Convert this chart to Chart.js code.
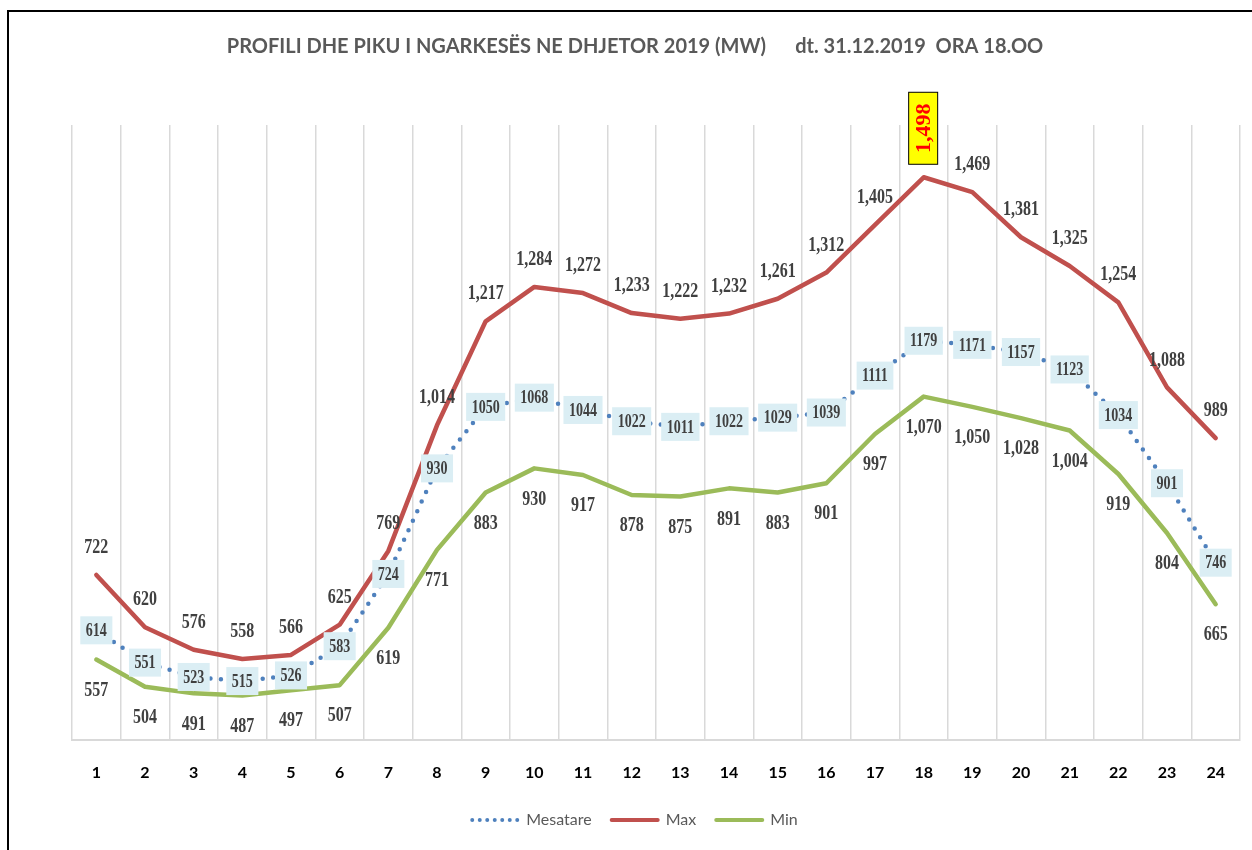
<!DOCTYPE html>
<html>
<head>
<meta charset="utf-8">
<title>Profili i ngarkeses</title>
<script src="https://cdn.jsdelivr.net/npm/chart.js@4.4.1/dist/chart.umd.min.js"></script>
<style>
  html, body { margin: 0; padding: 0; background: #fff; overflow: hidden; }
  #wrap { position: relative; width: 1252px; height: 850px; }
  #frame { position: absolute; left: 7px; top: 10px; width: 1260px; height: 860px;
           border-left: 2px solid #000; border-top: 2px solid #000; }
  #loadChart { position: absolute; left: 0; top: 0; }
</style>
</head>
<body>
<div id="wrap">
  <div id="frame"></div>
  <canvas id="loadChart" width="1252" height="850"></canvas>
</div>
<script>
// hours of the day
var hours = ['1','2','3','4','5','6','7','8','9','10','11','12',
             '13','14','15','16','17','18','19','20','21','22','23','24'];

// MW
var mesatare = [614, 551, 523, 515, 526, 583, 724, 930, 1050, 1068, 1044, 1022,
                1011, 1022, 1029, 1039, 1111, 1179, 1171, 1157, 1123, 1034, 901, 746];
var maxLoad  = [722, 620, 576, 558, 566, 625, 769, 1014, 1217, 1284, 1272, 1233,
                1222, 1232, 1261, 1312, 1405, 1498, 1469, 1381, 1325, 1254, 1088, 989];
var minLoad  = [557, 504, 491, 487, 497, 507, 619, 771, 883, 930, 917, 878,
                875, 891, 883, 901, 997, 1070, 1050, 1028, 1004, 919, 804, 665];

var titleText = 'PROFILI DHE PIKU I NGARKESËS NE DHJETOR 2019 (MW)      dt. 31.12.2019  ORA 18.OO';

var serif = '"Liberation Serif", "Times New Roman", serif';

function withComma(v) {
  return v.toLocaleString('en-US');
}

// squeezed bold serif text, like the narrow labels of the original
function squeezedText(ctx, text, x, y, size, color, squeeze) {
  ctx.save();
  ctx.translate(x, y);
  ctx.scale(squeeze, 1);
  ctx.font = 'bold ' + size + 'px ' + serif;
  ctx.fillStyle = color;
  ctx.textAlign = 'center';
  ctx.textBaseline = 'middle';
  ctx.fillText(text, 0, 0);
  ctx.restore();
}

var valueLabels = {
  id: 'valueLabels',
  afterDatasetsDraw: function(chart) {
    var ctx = chart.ctx;
    var peak = Math.max.apply(null, maxLoad);

    // Max: above the line
    chart.getDatasetMeta(1).data.forEach(function(pt, i) {
      var v = maxLoad[i];
      if (v === peak) {
        ctx.save();
        ctx.fillStyle = '#FFFF00';
        ctx.strokeStyle = '#000';
        ctx.lineWidth = 1;
        ctx.fillRect(pt.x - 15, pt.y - 85, 29, 72);
        ctx.strokeRect(pt.x - 15, pt.y - 85, 29, 72);
        ctx.translate(pt.x, pt.y - 49);
        ctx.rotate(-Math.PI / 2);
        ctx.font = 'bold 22px ' + serif;
        ctx.fillStyle = '#FF0000';
        ctx.textAlign = 'center';
        ctx.textBaseline = 'middle';
        ctx.fillText(withComma(v), 0, 1);
        ctx.restore();
      } else {
        squeezedText(ctx, withComma(v), pt.x, pt.y - 27, 20, '#404040', 0.8);
      }
    });

    // Min: below the line
    chart.getDatasetMeta(2).data.forEach(function(pt, i) {
      squeezedText(ctx, withComma(minLoad[i]), pt.x, pt.y + 31, 20, '#404040', 0.8);
    });

    // Mesatare: boxed, on the point
    chart.getDatasetMeta(0).data.forEach(function(pt, i) {
      var txt = String(mesatare[i]);
      ctx.save();
      ctx.font = 'bold 18px ' + serif;
      var w = ctx.measureText(txt).width * 0.78 + 11;
      ctx.restore();
      ctx.fillStyle = '#DBEEF4';
      ctx.fillRect(pt.x - w / 2, pt.y - 14, w, 28);
      squeezedText(ctx, txt, pt.x, pt.y + 1, 18, '#404040', 0.78);
    });
  }
};

new Chart(document.getElementById('loadChart'), {
  type: 'line',
  data: {
    labels: hours,
    datasets: [
      {
        label: 'Mesatare',
        data: mesatare,
        borderColor: '#4F81BD',
        backgroundColor: '#4F81BD',
        borderWidth: 4.5,
        borderDash: [0, 10.5],
        borderCapStyle: 'round',
        pointRadius: 0,
        tension: 0
      },
      {
        label: 'Max',
        data: maxLoad,
        borderColor: '#C0504D',
        backgroundColor: '#C0504D',
        borderWidth: 4.5,
        borderCapStyle: 'round',
        borderJoinStyle: 'round',
        pointRadius: 0,
        tension: 0
      },
      {
        label: 'Min',
        data: minLoad,
        borderColor: '#9BBB59',
        backgroundColor: '#9BBB59',
        borderWidth: 4.5,
        borderCapStyle: 'round',
        borderJoinStyle: 'round',
        pointRadius: 0,
        tension: 0
      }
    ]
  },
  options: {
    responsive: false,
    animation: false,
    events: [],
    layout: { padding: { left: 30, right: 12, top: 0, bottom: 12 } },
    scales: {
      x: {
        offset: true,
        grid: { offset: true, color: '#D9D9D9', lineWidth: 1.5, drawTicks: false },
        border: { color: '#D9D9D9', width: 2 },
        ticks: {
          color: '#000',
          padding: 23,
          font: { family: 'Lato', size: 16, weight: 'bold' },
          maxRotation: 0,
          autoSkip: false
        },
        afterFit: function(scale) { scale.height = 52; }
      },
      y: {
        display: true,
        min: 400,
        max: 1600,
        ticks: { display: false },
        grid: { display: false },
        border: { display: false },
        afterFit: function(scale) { scale.width = 42; }
      }
    },
    plugins: {
      title: {
        display: true,
        text: titleText,
        color: '#595959',
        font: { family: 'Lato', size: 20, weight: 'bold' },
        padding: { top: 35, bottom: 66 }
      },
      legend: {
        position: 'bottom',
        labels: {
          usePointStyle: true,
          pointStyle: 'line',
          pointStyleWidth: 46,
          padding: 20,
          color: '#595959',
          font: { family: 'Lato', size: 16 },
          generateLabels: function(chart) {
            var items = Chart.defaults.plugins.legend.labels.generateLabels(chart);
            items.forEach(function(item) {
              var ds = chart.data.datasets[item.datasetIndex];
              item.lineWidth = 4;
              item.lineCap = 'round';
              item.strokeStyle = ds.borderColor;
              item.lineDash = ds.borderDash ? [0, 7.5] : [];
            });
            return items;
          }
        }
      },
      tooltip: { enabled: false }
    }
  },
  plugins: [valueLabels]
});
</script>
</body>
</html>
